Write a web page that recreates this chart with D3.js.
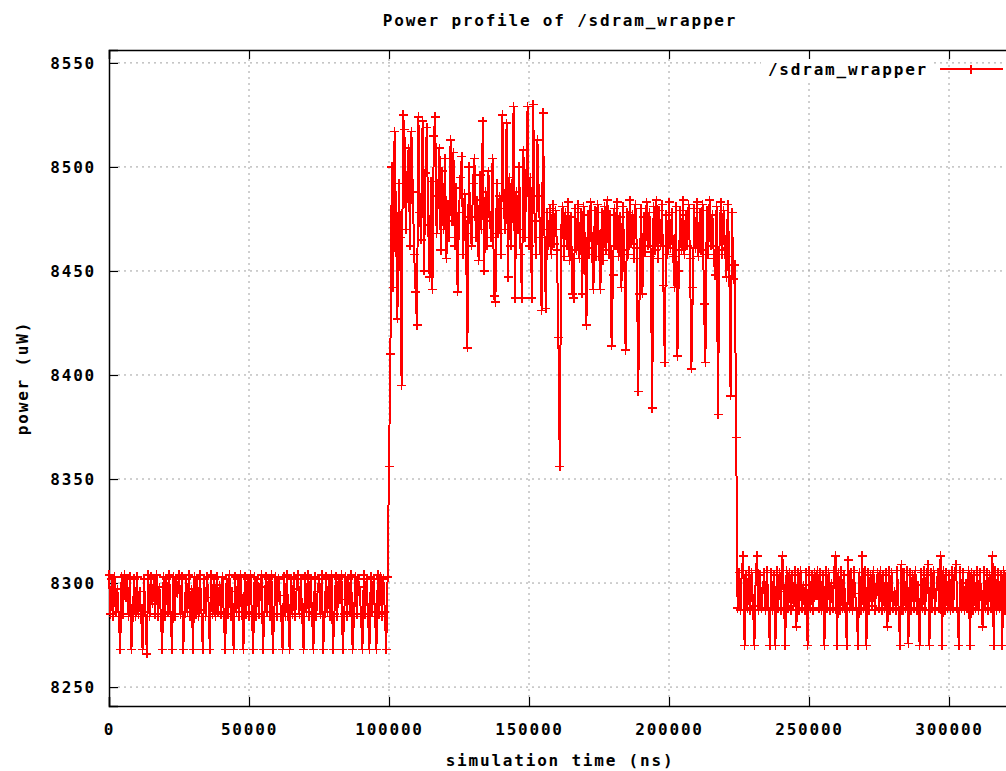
<!DOCTYPE html>
<html>
<head>
<meta charset="utf-8">
<script src="https://cdnjs.cloudflare.com/ajax/libs/d3/7.8.5/d3.min.js"></script>
<style>
  body { margin: 0; background: #fff; }
  text { font-family: "DejaVu Sans Mono", monospace; font-weight: bold; font-size: 16px; letter-spacing: 1.8px; fill: #000; }
</style>
</head>
<body>
<div id="chart"></div>
<script>
// Power samples (uW), one every sampleStep ns
var sampleStep = 500;

// 0 .. 99500 ns
var idleStart = 0;
var idleValues = [
  8304, 8285, 8302, 8284, 8303, 8286, 8297, 8284, 8268, 8303, 8285, 8304, 8293, 8302, 8284, 8303, 8268, 8285, 8302, 8284,
  8303, 8285, 8296, 8284, 8268, 8302, 8286, 8266, 8304, 8284, 8303, 8290, 8302, 8285, 8304, 8284, 8298, 8285, 8268, 8303,
  8284, 8302, 8286, 8304, 8285, 8268, 8303, 8284, 8302, 8295, 8304, 8285, 8303, 8268, 8284, 8302, 8286, 8304, 8284, 8297,
  8268, 8303, 8285, 8302, 8284, 8304, 8287, 8268, 8302, 8284, 8303, 8293, 8268, 8304, 8285, 8302, 8284, 8303, 8286, 8299,
  8285, 8303, 8284, 8268, 8302, 8285, 8304, 8284, 8296, 8268, 8303, 8286, 8302, 8284, 8304, 8290, 8268, 8303, 8285, 8302,
  8284, 8304, 8286, 8268, 8303, 8284, 8302, 8285, 8298, 8304, 8268, 8284, 8303, 8286, 8302, 8284, 8304, 8268, 8285, 8303,
  8284, 8302, 8294, 8285, 8268, 8303, 8284, 8304, 8286, 8268, 8302, 8285, 8303, 8284, 8297, 8304, 8285, 8302, 8284, 8268,
  8303, 8286, 8304, 8284, 8302, 8285, 8268, 8303, 8284, 8296, 8302, 8285, 8304, 8268, 8284, 8303, 8286, 8302, 8284, 8304,
  8268, 8285, 8303, 8284, 8302, 8292, 8304, 8268, 8285, 8303, 8284, 8302, 8286, 8304, 8268, 8284, 8303, 8285, 8302, 8298,
  8284, 8268, 8304, 8285, 8302, 8284, 8268, 8303, 8286, 8302, 8284, 8268, 8304, 8285, 8303, 8284, 8302, 8286, 8268, 8303
];

// 100000 .. 224000 ns
var activeStart = 100000;
var activeValues = [
  8356, 8410, 8500, 8442, 8517, 8474, 8427, 8492, 8466, 8395,
  8525, 8518, 8470, 8495, 8509, 8462, 8517, 8488, 8458, 8440,
  8424, 8524, 8478, 8465, 8522, 8450, 8497, 8519, 8472, 8447,
  8493, 8441, 8515, 8524, 8468, 8486, 8509, 8460, 8498, 8470,
  8504, 8456, 8482, 8466, 8513, 8474, 8507, 8462, 8490, 8440,
  8478, 8495, 8505, 8458, 8487, 8468, 8413, 8500, 8476, 8462,
  8492, 8504, 8466, 8484, 8455, 8496, 8470, 8522, 8450, 8488,
  8462, 8498, 8474, 8466, 8504, 8438, 8435, 8492, 8468, 8486,
  8458, 8525, 8480, 8470, 8521, 8447, 8495, 8462, 8484, 8529,
  8437, 8488, 8470, 8500, 8458, 8437, 8508, 8466, 8490, 8529,
  8462, 8495, 8437, 8530, 8474, 8458, 8513, 8486, 8466, 8431,
  8526, 8470, 8432, 8478, 8462, 8480, 8458, 8482, 8463, 8479,
  8460, 8418, 8356, 8470, 8481, 8457, 8478, 8462, 8483, 8455,
  8476, 8439, 8437, 8480, 8460, 8482, 8456, 8478, 8439, 8481,
  8462, 8424, 8477, 8458, 8483, 8461, 8441, 8479, 8457, 8482,
  8463, 8441, 8478, 8455, 8481, 8460, 8484, 8458, 8477, 8414,
  8448, 8480, 8462, 8483, 8457, 8476, 8442, 8481, 8460, 8412,
  8478, 8458, 8484, 8463, 8477, 8456, 8482, 8461, 8392, 8439,
  8480, 8439, 8476, 8459, 8483, 8462, 8478, 8457, 8384, 8481,
  8460, 8484, 8456, 8479, 8462, 8482, 8443, 8406, 8477, 8458,
  8483, 8461, 8478, 8457, 8442, 8481, 8409, 8450, 8479, 8460,
  8484, 8458, 8477, 8462, 8482, 8456, 8403, 8442, 8480, 8461,
  8483, 8457, 8478, 8460, 8482, 8434, 8406, 8479, 8458, 8484,
  8462, 8477, 8456, 8448, 8481, 8381, 8460, 8483, 8458, 8479,
  8461, 8447, 8482, 8457, 8390, 8478, 8446, 8453, 8370
];

// 224500 .. 322000 ns
var tailStart = 224500;
var tailValues = [
  8288, 8305, 8287, 8306, 8313, 8270, 8304, 8288, 8306, 8287,
  8305, 8289, 8270, 8306, 8313, 8287, 8304, 8288, 8297, 8305,
  8287, 8306, 8288, 8270, 8305, 8287, 8304, 8270, 8306, 8288,
  8305, 8287, 8313, 8296, 8270, 8306, 8288, 8305, 8287, 8304,
  8289, 8306, 8279, 8305, 8287, 8306, 8288, 8299, 8287, 8305,
  8270, 8306, 8288, 8304, 8287, 8305, 8294, 8306, 8288, 8305,
  8287, 8304, 8270, 8306, 8288, 8305, 8287, 8300, 8288, 8306,
  8313, 8270, 8305, 8287, 8306, 8288, 8304, 8287, 8270, 8311,
  8288, 8305, 8287, 8306, 8295, 8288, 8270, 8305, 8287, 8313,
  8288, 8306, 8270, 8305, 8287, 8304, 8289, 8306, 8287, 8298,
  8305, 8288, 8306, 8287, 8304, 8288, 8305, 8279, 8306, 8287,
  8305, 8288, 8296, 8287, 8306, 8288, 8270, 8309, 8287, 8305,
  8288, 8306, 8271, 8305, 8287, 8304, 8288, 8306, 8287, 8299,
  8270, 8305, 8288, 8306, 8287, 8304, 8309, 8270, 8305, 8288,
  8306, 8287, 8297, 8305, 8288, 8313, 8270, 8306, 8287, 8305,
  8288, 8304, 8287, 8306, 8288, 8305, 8309, 8287, 8270, 8306,
  8288, 8305, 8287, 8300, 8288, 8306, 8270, 8305, 8287, 8304,
  8288, 8306, 8287, 8305, 8295, 8279, 8306, 8288, 8305, 8287,
  8304, 8288, 8313, 8270, 8306, 8287, 8305, 8288, 8304, 8270,
  8306, 8287, 8305, 8288, 8304, 8287
];

var xTicks = [0, 50000, 100000, 150000, 200000, 250000, 300000];
var yTicks = [8250, 8300, 8350, 8400, 8450, 8500, 8550];
var xRange = [0, 323000];
var yRange = [8240.9, 8556.2];

var seriesName = "/sdram_wrapper";

// chart setup
var svgWidth = 1006;
var svgHeight = 771;
var margin = { top: 50, left: 109 };
var width = 904.4;
var height = 656;

var svg = d3.select("#chart")
  .append("svg")
  .attr("width", svgWidth)
  .attr("height", svgHeight)
  .style("display", "block");

svg.append("rect")
  .attr("width", svgWidth)
  .attr("height", svgHeight)
  .attr("fill", "#fff");

var chartGroup = svg.append("g")
  .attr("transform", `translate(${margin.left}, ${margin.top})`);

// build points
var data = [];
[[idleStart, idleValues], [activeStart, activeValues], [tailStart, tailValues]].forEach(function (seg) {
  seg[1].forEach(function (v, i) {
    data.push({ t: seg[0] + i * sampleStep, p: v });
  });
});

var xScale = d3.scaleLinear().domain(xRange).range([0, width]);
var yScale = d3.scaleLinear().domain(yRange).range([height, 0]);

// grid
var gridColor = "#a0a0a0";
chartGroup.selectAll(".vgrid")
  .data(xTicks.slice(1))
  .enter()
  .append("line")
  .attr("x1", d => xScale(d))
  .attr("x2", d => xScale(d))
  .attr("y1", 9)
  .attr("y2", height - 9)
  .attr("stroke", gridColor)
  .attr("stroke-dasharray", "2,4");

chartGroup.selectAll(".hgrid")
  .data(yTicks)
  .enter()
  .append("line")
  .attr("x1", 9)
  .attr("x2", width)
  .attr("y1", d => yScale(d))
  .attr("y2", d => yScale(d))
  .attr("stroke", gridColor)
  .attr("stroke-dasharray", "2,4");

// axes
var bottomAxis = d3.axisBottom(xScale).tickValues(xTicks).tickFormat(d3.format("d")).tickSize(-9).tickPadding(18);
var topAxis = d3.axisTop(xScale).tickValues(xTicks).tickFormat("").tickSize(-9);
var leftAxis = d3.axisLeft(yScale).tickValues(yTicks).tickFormat(d3.format("d")).tickSize(-9).tickPadding(13);

function styleAxis(g) {
  g.select(".domain").attr("stroke", "#000").attr("stroke-width", 1.5);
  g.selectAll(".tick line").attr("stroke", "#000").attr("stroke-width", 1.2);
  g.selectAll("text").attr("font-family", null).attr("font-size", null).attr("fill", "#000");
}

chartGroup.append("g")
  .attr("transform", `translate(0, ${height})`)
  .call(bottomAxis)
  .call(styleAxis);

chartGroup.append("g")
  .call(topAxis)
  .call(styleAxis);

chartGroup.append("g")
  .call(leftAxis)
  .call(styleAxis);

// legend box (opaque, hides grid behind text)
chartGroup.append("rect")
  .attr("x", 652)
  .attr("y", 9)
  .attr("width", 170)
  .attr("height", 20)
  .attr("fill", "#fff");

// line
var line = d3.line()
  .x(d => xScale(d.t))
  .y(d => yScale(d.p));

var red = "#ff0000";

chartGroup.append("path")
  .datum(data)
  .attr("d", line)
  .attr("fill", "none")
  .attr("stroke", red)
  .attr("stroke-width", 2)
  .attr("shape-rendering", "crispEdges");

// plus markers
var plus = "M-4.5,0H4.5M0,-4.5V4.5";
chartGroup.selectAll(".pt")
  .data(data)
  .enter()
  .append("path")
  .attr("transform", d => `translate(${xScale(d.t)}, ${yScale(d.p)})`)
  .attr("d", plus)
  .attr("stroke", red)
  .attr("stroke-width", 1.6)
  .attr("fill", "none")
  .attr("shape-rendering", "crispEdges");

// legend
var legendY = 19;
chartGroup.append("text")
  .attr("x", 819)
  .attr("y", legendY)
  .attr("dy", "0.35em")
  .attr("text-anchor", "end")
  .text(seriesName);

chartGroup.append("line")
  .attr("x1", 831)
  .attr("x2", 894)
  .attr("y1", legendY)
  .attr("y2", legendY)
  .attr("stroke", red)
  .attr("stroke-width", 1.6)
  .attr("shape-rendering", "crispEdges");

chartGroup.append("path")
  .attr("transform", `translate(862, ${legendY})`)
  .attr("d", plus)
  .attr("stroke", red)
  .attr("stroke-width", 1.6)
  .attr("shape-rendering", "crispEdges");

// titles
svg.append("text")
  .attr("x", 560)
  .attr("y", 20)
  .attr("text-anchor", "middle")
  .attr("dy", "0.35em")
  .text("Power profile of " + seriesName);

svg.append("text")
  .attr("x", 560)
  .attr("y", 760)
  .attr("text-anchor", "middle")
  .attr("dy", "0.35em")
  .text("simulation time (ns)");

svg.append("text")
  .attr("transform", "translate(22, 378) rotate(-90)")
  .attr("text-anchor", "middle")
  .attr("dy", "0.35em")
  .text("power (uW)");
</script>
</body>
</html>
